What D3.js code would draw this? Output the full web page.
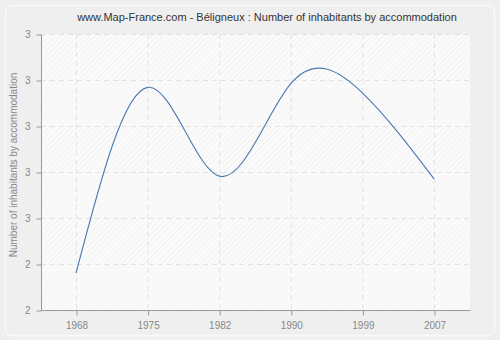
<!DOCTYPE html>
<html lang="en">
<head>
    <meta charset="UTF-8">
    <title>Béligneux</title>
    <script src="https://d3js.org/d3.v7.min.js"></script>
    <style>
        body { margin: 0; background: #fff; }
        text { font-family: "Liberation Sans", Arial, sans-serif; }
    </style>
</head>
<body>
    <svg width="500" height="340"></svg>
    <script>
        const years = ["1968", "1975", "1982", "1990", "1999", "2007"];
        const values = [2.38, 2.784, 2.591, 2.792, 2.772, 2.585];
        const yTicks = [2.3, 2.4, 2.5, 2.6, 2.7, 2.8, 2.9];
        const yTickLabels = ["2", "2", "3", "3", "3", "3", "3"];

        const svg = d3.select("svg");
        const width = +svg.attr("width");
        const height = +svg.attr("height");

        const plotLeft = 41, plotRight = 470, plotTop = 34, plotBottom = 310;

        // fond
        svg.append("rect").attr("width", width).attr("height", height).attr("fill", "#efefef");
        svg.append("rect")
            .attr("x", 5.5).attr("y", 5.5).attr("width", 489).attr("height", 330)
            .attr("rx", 6).attr("fill", "#efefef").attr("stroke", "#f9f9f9").attr("stroke-width", 1.5);

        const defs = svg.append("defs");
        const pat = defs.append("pattern")
            .attr("id", "hatch").attr("patternUnits", "userSpaceOnUse")
            .attr("width", 4).attr("height", 4)
            .attr("patternTransform", "rotate(45)");
        pat.append("rect").attr("width", 4).attr("height", 4).attr("fill", "#fbfbfb");
        pat.append("line").attr("x1", 0).attr("y1", 0).attr("x2", 0).attr("y2", 4)
            .attr("stroke", "#ececec").attr("stroke-width", 1.2);

        const pat2 = defs.append("pattern")
            .attr("id", "hatch2").attr("patternUnits", "userSpaceOnUse")
            .attr("width", 4).attr("height", 4)
            .attr("patternTransform", "rotate(45)");
        pat2.append("rect").attr("width", 4).attr("height", 4).attr("fill", "#fafafa");
        pat2.append("line").attr("x1", 0).attr("y1", 0).attr("x2", 0).attr("y2", 4)
            .attr("stroke", "#f3f3f3").attr("stroke-width", 1.2);

        const x = d3.scalePoint().domain(years).range([76, 434]);
        const y = d3.scaleLinear().domain([2.3, 2.9]).range([plotBottom, plotTop]);

        svg.append("rect")
            .attr("x", plotLeft).attr("y", plotTop)
            .attr("width", plotRight - plotLeft).attr("height", plotBottom - plotTop)
            .attr("fill", "url(#hatch)");

        // bandes alternées
        svg.selectAll(".band")
            .data(yTicks.slice(0, -1).filter((d, i) => i % 2 === 0))
            .enter().append("rect")
            .attr("x", plotLeft).attr("width", plotRight - plotLeft)
            .attr("y", d => y(d + 0.1)).attr("height", d => y(d) - y(d + 0.1))
            .attr("fill", "url(#hatch2)");

        // grille
        svg.selectAll(".hgrid")
            .data(yTicks)
            .enter().append("line")
            .attr("x1", plotLeft).attr("x2", plotRight)
            .attr("y1", d => y(d) + 0.5).attr("y2", d => y(d) + 0.5)
            .attr("stroke", "#e2e2e2").attr("stroke-dasharray", "5,4");
        svg.selectAll(".vgrid")
            .data(years)
            .enter().append("line")
            .attr("x1", d => x(d) + 0.5).attr("x2", d => x(d) + 0.5)
            .attr("y1", plotTop).attr("y2", plotBottom)
            .attr("stroke", "#e2e2e2").attr("stroke-dasharray", "5,4");

        // axes
        const yAxis = d3.axisLeft(y).tickValues(yTicks)
            .tickFormat((d, i) => yTickLabels[i]).tickSize(5).tickPadding(6);
        const gy = svg.append("g").attr("transform", `translate(${plotLeft + 0.5},0.5)`).call(yAxis);
        const xAxis = d3.axisBottom(x).tickSize(5).tickPadding(6);
        const gx = svg.append("g").attr("transform", `translate(0.5,${plotBottom + 0.5})`).call(xAxis);
        [gx, gy].forEach(g => {
            g.select(".domain").attr("stroke", "#999");
            g.selectAll(".tick line").attr("stroke", "#999");
            g.selectAll(".tick text").attr("fill", "#888").attr("font-size", 10)
                .style("font-family", "Liberation Sans, Arial, sans-serif");
        });
        gx.select(".domain").attr("d", `M${plotLeft},0H${plotRight}`);
        gy.select(".domain").attr("d", `M0,${plotTop}V${plotBottom}`);

        // courbe
        const line = d3.line()
            .x((d, i) => x(years[i]))
            .y(d => y(d))
            .curve(d3.curveNatural);
        svg.append("path")
            .datum(values)
            .attr("d", line)
            .attr("fill", "none")
            .attr("stroke", "#4a78b0")
            .attr("stroke-width", 1.1);

        // titres
        svg.append("text")
            .attr("x", 267).attr("y", 21)
            .attr("text-anchor", "middle")
            .attr("font-size", 11).attr("fill", "#333")
            .text("www.Map-France.com - Béligneux : Number of inhabitants by accommodation");
        svg.append("text")
            .attr("transform", "translate(17,165) rotate(-90)")
            .attr("text-anchor", "middle")
            .attr("font-size", 10).attr("fill", "#888")
            .text("Number of inhabitants by accommodation");
    </script>
</body>
</html>
